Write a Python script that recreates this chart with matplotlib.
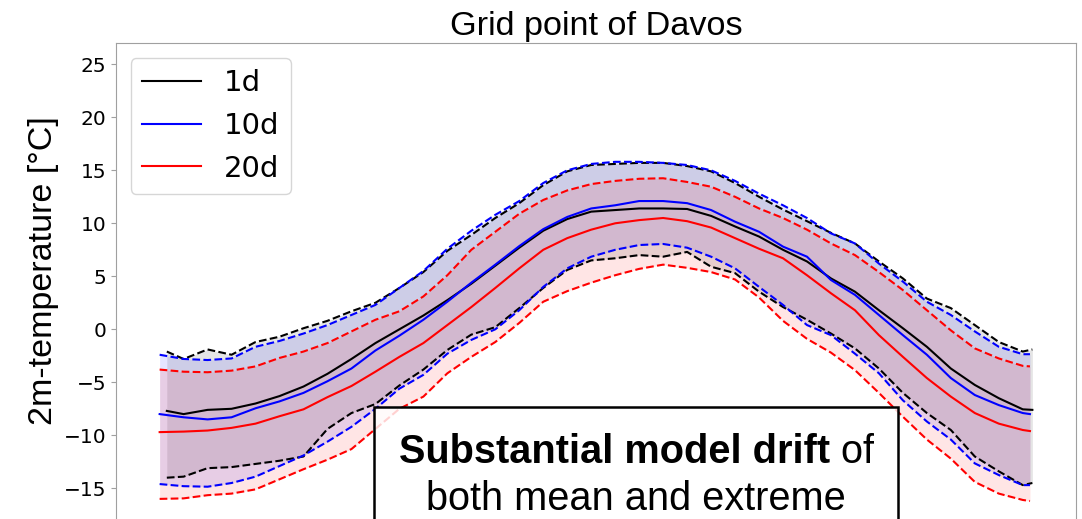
import matplotlib
matplotlib.use("Agg")
import matplotlib.pyplot as plt
from matplotlib.patches import Rectangle
from matplotlib.text import Annotation

# day of the year, 1d run starts a bit later
day_1d = [3, 10, 20, 30, 40, 50, 60, 70, 80, 90, 100, 110, 120, 130, 140, 150, 160, 170, 180,
          190, 200, 210, 220, 230, 240, 250, 260, 270, 280, 290, 300, 310, 320, 330, 340, 350, 360, 364]
day_ext = [0, 10, 20, 30, 40, 50, 60, 70, 80, 90, 100, 110, 120, 130, 140, 150, 160, 170, 180,
           190, 200, 210, 220, 230, 240, 250, 260, 270, 280, 290, 300, 310, 320, 330, 340, 350, 360, 363]

# 1d lead time
upper_1d = [-2.1, -2.8, -1.9, -2.4, -1.2, -0.7, 0.1, 0.8, 1.7, 2.5, 3.9, 5.4, 7.4, 8.9, 10.5, 11.9, 13.6, 14.9, 15.5,
            15.6, 15.7, 15.7, 15.4, 14.9, 13.8, 12.5, 11.3, 10.2, 9.1, 8.1, 6.4, 4.8, 2.9, 2.0, 0.4, -1.2, -2.1, -1.9]
mean_1d = [-7.7, -8.0, -7.6, -7.5, -7.0, -6.3, -5.4, -4.2, -2.8, -1.3, 0.0, 1.3, 2.75, 4.3, 6.0, 7.7, 9.3, 10.4, 11.1,
           11.25, 11.4, 11.4, 11.35, 10.7, 9.7, 8.75, 7.5, 6.4, 4.8, 3.55, 1.8, 0.1, -1.65, -3.7, -5.25, -6.5, -7.55, -7.6]
lower_1d = [-14.0, -13.9, -13.1, -13.0, -12.7, -12.4, -12.0, -9.4, -7.9, -7.05, -5.3, -3.8, -1.95, -0.5, 0.2, 2.0, 3.9, 5.6, 6.5,
            6.7, 7.0, 6.85, 7.3, 5.9, 5.3, 3.55, 2.1, 0.9, -0.4, -1.8, -3.7, -6.0, -7.9, -9.5, -12.0, -13.4, -14.7, -14.5]

# 10d lead time
upper_10d = [-2.4, -2.8, -2.9, -2.75, -1.65, -1.1, -0.4, 0.4, 1.35, 2.3, 3.9, 5.5, 7.6, 9.3, 10.8, 12.1, 13.8, 15.0, 15.6,
             15.8, 15.8, 15.7, 15.5, 15.0, 14.0, 12.8, 11.7, 10.5, 9.05, 8.1, 6.2, 4.5, 2.6, 1.35, -0.2, -1.65, -2.35, -2.35]
mean_10d = [-8.0, -8.3, -8.5, -8.3, -7.45, -6.8, -6.0, -4.9, -3.7, -2.0, -0.6, 0.9, 2.6, 4.4, 6.1, 7.85, 9.45, 10.6, 11.4,
            11.7, 12.1, 12.1, 11.9, 11.25, 10.15, 9.2, 7.8, 6.85, 4.65, 3.25, 1.35, -0.55, -2.4, -4.6, -6.2, -7.15, -7.9, -8.0]
lower_10d = [-14.6, -14.8, -14.85, -14.5, -13.9, -12.9, -11.9, -10.6, -9.2, -7.5, -5.6, -4.3, -2.3, -1.0, 0.0, 1.8, 4.0, 5.75, 6.85,
             7.5, 7.95, 8.05, 7.7, 6.85, 5.75, 4.0, 2.3, 0.4, -0.55, -2.3, -4.15, -6.7, -8.7, -10.4, -12.65, -13.75, -14.7, -14.7]

# 20d lead time
upper_20d = [-3.8, -4.0, -4.05, -3.9, -3.5, -2.7, -2.1, -1.3, -0.2, 0.9, 1.7, 3.1, 5.1, 7.5, 9.2, 10.9, 12.2, 13.1, 13.7,
             14.0, 14.2, 14.25, 13.9, 13.45, 12.5, 11.4, 10.5, 9.4, 8.1, 7.0, 5.4, 3.7, 1.8, -0.1, -1.8, -2.75, -3.45, -3.5]
mean_20d = [-9.7, -9.65, -9.55, -9.3, -8.9, -8.2, -7.55, -6.4, -5.35, -4.0, -2.6, -1.3, 0.4, 2.1, 3.9, 5.75, 7.5, 8.6, 9.4,
            10.0, 10.3, 10.5, 10.2, 9.6, 8.6, 7.6, 6.7, 5.1, 3.4, 1.8, -0.55, -2.6, -4.6, -6.35, -7.9, -8.9, -9.5, -9.6]
lower_20d = [-16.0, -15.95, -15.65, -15.5, -15.1, -14.15, -13.2, -12.3, -11.3, -9.4, -7.5, -6.35, -4.15, -2.6, -1.2, 0.6, 2.6, 3.6, 4.4,
             5.1, 5.7, 6.1, 5.8, 5.4, 4.7, 3.0, 0.8, -0.9, -2.2, -3.85, -6.0, -8.25, -10.4, -12.2, -14.4, -15.5, -16.1, -16.2]

yticks = [-15, -10, -5, 0, 5, 10, 15, 20, 25]

W, H = 1082, 519
fig = plt.figure(figsize=(W / 100, H / 100), dpi=100)
# axes runs below the bottom of the picture
ax = fig.add_axes([116 / W, (H - 615.5) / H, 960 / W, 572.4 / H])

runs = [
    ("1d", day_1d, lower_1d, mean_1d, upper_1d, "black"),
    ("10d", day_ext, lower_10d, mean_10d, upper_10d, "blue"),
    ("20d", day_ext, lower_20d, mean_20d, upper_20d, "red"),
]
for label, d, lo, mid, hi, c in runs:
    ax.fill_between(d, lo, hi, color=c, alpha=0.1, lw=0)
    ax.plot(d, mid, color=c, lw=1.5, label=label)
    ax.plot(d, lo, "--", color=c, lw=1.5)
    ax.plot(d, hi, "--", color=c, lw=1.5)

ax.set_ylim(-27, 27)
ax.set_yticks(yticks)
ax.tick_params(axis="y", labelsize=14.5, color="#a0a0a0")
# x axis is below the visible part anyway
ax.tick_params(axis="x", bottom=False, labelbottom=False)
for s in ax.spines.values():
    s.set_color("#a0a0a0")

ax.set_title("Grid point of Davos", fontsize=24.7, family="Liberation Sans")
ax.legend(loc="upper left", fontsize=21)

fig.text(52.3 / W, 1 - 271 / H, "2m-temperature [°C]", rotation=90, rotation_mode="anchor",
         ha="center", va="baseline", fontsize=24.5, family="Liberation Sans")

# text box over the lower part of the plot
box = Rectangle((374 / W, -0.2), 524 / W, (1 - 407.3 / H) + 0.2, transform=fig.transFigure,
                facecolor=(1, 1, 1, 0.82), edgecolor="black", lw=1.8, zorder=5)
fig.add_artist(box)
t1 = fig.text(398.7 / W, 1 - 463.3 / H, "Substantial model drift", fontsize=28.6, fontweight="bold",
              family="Liberation Sans", ha="left", va="baseline", zorder=6)
fig.add_artist(Annotation(" of", xy=(1, 0), xycoords=t1, ha="left", va="bottom",
                          fontsize=28.6, family="Liberation Sans", zorder=6))
fig.text(636 / W, 1 - 510 / H, "both mean and extreme", fontsize=28.6, family="Liberation Sans",
         ha="center", va="baseline", zorder=6)

fig.savefig("out.png", dpi=100)
